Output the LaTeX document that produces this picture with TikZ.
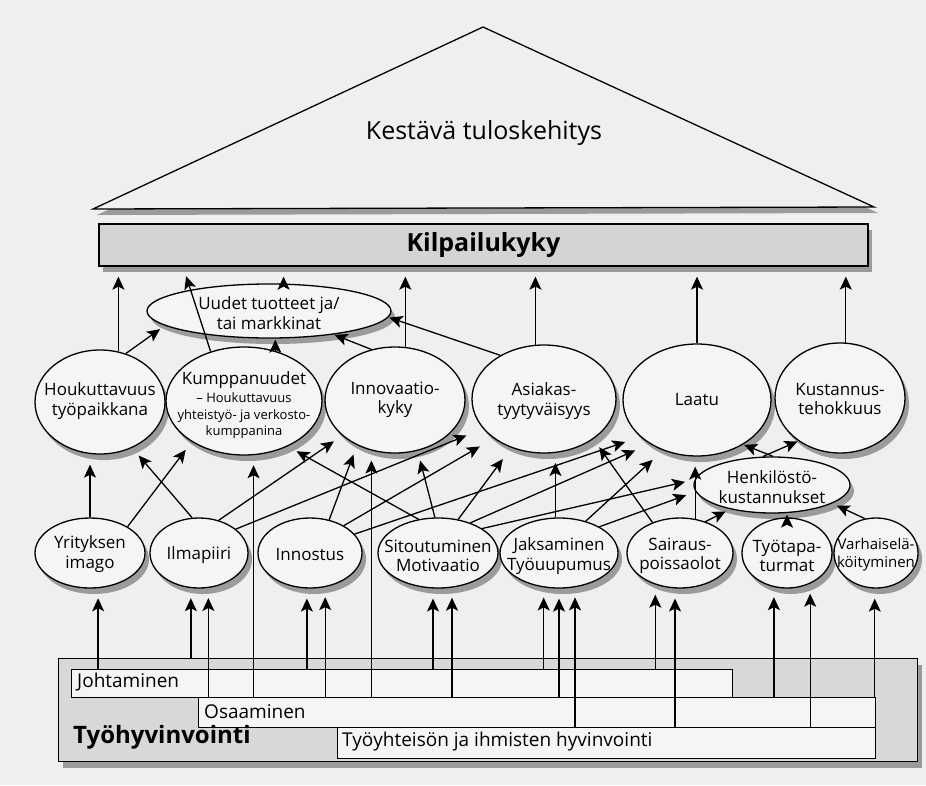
\documentclass[tikz,border=0pt]{standalone}
\usepackage{fontspec}
\setmainfont{Open Sans}
\usetikzlibrary{shapes.geometric,arrows.meta,calc}
\definecolor{bg}{RGB}{239,239,237}
\definecolor{ellfill}{RGB}{245,245,243}
\definecolor{barfill}{RGB}{212,212,210}
\definecolor{boxfill}{RGB}{216,216,214}
\definecolor{innerfill}{RGB}{245,245,243}
\definecolor{shade}{RGB}{155,155,155}
\newcommand\smalltxt{\fontsize{13}{15}\selectfont}
\begin{document}
\begin{tikzpicture}[x=1pt,y=-1pt,
  every node/.style={font=\fontsize{17}{19.5}\selectfont},
  shad/.style={preaction={fill=shade, transform canvas={xshift=4pt,yshift=-6pt}}},
  ell/.style={ellipse, draw, line width=1.3pt, fill=ellfill, inner sep=0pt, shad},
  txt/.style={align=center, inner sep=0pt},
  boxtxt/.style={anchor=west, inner sep=0pt, font=\fontsize{19}{22}\selectfont},
  inbox/.style={draw, line width=1.3pt, fill=innerfill, inner sep=0pt, anchor=north west},
  arr/.style={line width=1.3pt, -{Stealth[length=13pt,width=12pt,inset=3pt]}, shorten >=10pt},
  arrs/.style={arr, shorten >=1pt}
]
\fill[bg] (0,0) rectangle (926,785);
\useasboundingbox (0,0) rectangle (926,785);

% roof
\path[draw, line width=1.3pt, fill=bg, shad] (483,27) coordinate (apex) -- (93,209) coordinate (tl) -- (874,207) coordinate (tr) -- cycle;
\node[font=\fontsize{25}{30}\selectfont] (kes) at (484,133) {Kestävä tuloskehitys};

% bar
\node[draw, line width=1.3pt, fill=barfill, shad, minimum width=769pt, minimum height=42pt, inner sep=0pt] (kil) at (483.5,245) {};
\node[font=\bfseries\fontsize{25}{30}\selectfont] (kilT) at (kil) {Kilpailukyky};

% upper ellipses
\node[ell, minimum width=244pt, minimum height=54pt] (uud) at (269,311) {};
\node[txt] (uudT) at (269,313) {Uudet tuotteet ja/\\tai markkinat};

\node[ell, minimum width=130pt, minimum height=104pt] (hou) at (100,402) {};
\node[txt] (houT) at (100,401) {Houkuttavuus\\työpaikkana};
\node[ell, minimum width=156pt, minimum height=108pt] (kum) at (244,401) {};
\node[txt] (kumT) at (244,405) {Kumppanuudet\\[-1pt]\smalltxt – Houkuttavuus\\[-3pt]\smalltxt yhteistyö- ja verkosto-\\[-3pt]\smalltxt kumppanina};
\node[ell, minimum width=140pt, minimum height=106pt] (inn) at (395,400) {};
\node[txt] (innT) at (395,400) {Innovaatio-\\kyky};
\node[ell, minimum width=144pt, minimum height=108pt] (asi) at (544,399) {};
\node[txt] (asiT) at (544,401) {Asiakas-\\tyytyväisyys};
\node[ell, minimum width=148pt, minimum height=112pt] (laa) at (697,400) {};
\node[txt] (laaT) at (697,400) {Laatu};
\node[ell, minimum width=130pt, minimum height=110pt] (kus) at (840,398) {};
\node[txt] (kusT) at (840,399) {Kustannus-\\tehokkuus};

\node[ell, minimum width=156pt, minimum height=56pt] (hen) at (772,485) {};
\node[txt] (henT) at (772,487) {Henkilöstö-\\kustannukset};

% lower ellipses
\node[ell, minimum width=110pt, minimum height=70pt] (yri) at (90,553) {};
\node[txt] (yriT) at (90,554) {Yrityksen\\imago};
\node[ell, minimum width=98pt, minimum height=70pt] (ilm) at (199,553) {};
\node[txt] (ilmT) at (199,555) {Ilmapiiri};
\node[ell, minimum width=104pt, minimum height=70pt] (ist) at (310,553) {};
\node[txt] (istT) at (310,555) {Innostus};
\node[ell, minimum width=120pt, minimum height=70pt] (sit) at (438,553) {};
\node[txt] (sitT) at (438,556) {Sitoutuminen\\Motivaatio};
\node[ell, minimum width=118pt, minimum height=70pt] (jak) at (559,553) {};
\node[txt] (jakT) at (559,556) {Jaksaminen\\Työuupumus};
\node[ell, minimum width=106pt, minimum height=70pt] (sai) at (680,553) {};
\node[txt] (saiT) at (680,556) {Sairaus-\\poissaolot};
\node[ell, minimum width=90pt, minimum height=70pt] (tyo) at (787,553) {};
\node[txt] (tyoT) at (787,556) {Työtapa-\\turmat};
\node[ell, minimum width=84pt, minimum height=70pt] (var) at (876,553) {};
\node[txt, font=\fontsize{15}{18}\selectfont] (varT) at (876,555) {Varhaiselä-\\köityminen};

% bottom boxes
\node[draw, line width=1.3pt, fill=boxfill, shad, minimum width=859pt, minimum height=103pt, inner sep=0pt, anchor=north west] (tyh) at (58,658) {};
\node[inbox, minimum width=661pt, minimum height=28pt] (joh) at (71,669) {};
\node[inbox, minimum width=677pt, minimum height=30pt] (osa) at (198,697) {};
\node[inbox, minimum width=538pt, minimum height=31pt] (tyy) at (337,727) {};
\node[boxtxt] (johT) at (77,682) {Johtaminen};
\node[boxtxt] (osaT) at (204,712) {Osaaminen};
\node[boxtxt] (tyyT) at (342,742) {Työyhteisön ja ihmisten hyvinvointi};
\node[boxtxt, font=\bfseries\fontsize{24}{28}\selectfont] (tyhT) at (73,737) {Työhyvinvointi};

% to Kilpailukyky
\draw[arr] (hou.70) -- (hou.70 |- kil.south);
\draw[arr] (kum.124) -- ([xshift=-300.5pt]kil.south);
\draw[arr] (uud.62) -- (uud.62 |- kil.south);
\draw[arr] (inn.79) -- (inn.79 |- kil.south);
\draw[arr] (asi.99) -- (asi.99 |- kil.south);
\draw[arr] (laa.north) -- (laa.north |- kil.south);
\draw[arr] (kus.84) -- (kus.84 |- kil.south);

% to Uudet tuotteet
\draw[arr, shorten >=6pt] (hou.62) -- (uud.188);
\draw[arrs] (kum.58) -- (kum.58 |- uud.south);
\draw[arrs] (inn.115) -- (uud.340);
\draw[arrs] (asi.135) -- (uud.357);

% lower row to upper row
\draw[arr] (yri.north) -- (yri.north |- hou.south);
\draw[arr] (yri.35) -- (kum.218);
\draw[arr] (ilm.101) -- (hou.305);
\draw[arr] (ilm.59) -- (inn.214);
\draw[arr, shorten >=18pt] (ilm.33) -- (asi.206);
\draw[arr] (ist.60) -- (inn.230);
\draw[arr, shorten >=16pt] (ist.39) -- (asi.218);
\draw[arr, shorten >=16pt] (ist.23) -- (laa.213);
\draw[arr] (sit.120) -- (kum.314);
\draw[arr] (sit.95) -- (inn.294);
\draw[arr, shorten >=14pt] (sit.59) -- (asi.236);
\draw[arr, shorten >=16pt] (sit.43) -- (laa.223);
\draw[arr] (sit.29) -- (hen.176);
\draw[arr] (jak.north -| asi.282) -- (asi.282);
\draw[arr, shorten >=14pt] (jak.50) -- (laa.236);
\draw[arr] (jak.33) -- (hen.185);
\draw[arr] (sai.132) -- (asi.321);
\draw[arr] (sai.66) -- (sai.66 |- laa.south);
\draw[arr, shorten >=5pt] (sai.51) -- (hen.210);
\draw[arrs] (tyo.north) -- (tyo.north |- hen.south);
\draw[arr, shorten >=5pt] (var.108) -- (hen.343);
\draw[arrs] (hen.88) -- (laa.316);
\draw[arrs] (hen.108) -- (kus.226);

% boxes to lower row
\draw[arr] (yri.283 |- joh.north) -- (yri.283);
\draw[arr] (ist.265 |- joh.north) -- (ist.265);
\draw[arr] (sit.262 |- joh.north) -- (sit.262);
\draw[arr] (jak.246 |- joh.north) -- (jak.246);
\draw[arr] (sai.232 |- joh.north) -- (sai.232);
\draw[arr] (ilm.257 |- tyh.north) -- (ilm.257);
\draw[arr] (ilm.285 |- osa.north) -- (ilm.285);
\draw[arr] (kum.280 |- osa.north) -- (kum.280);
\draw[arr] (ist.294 |- osa.north) -- (ist.294);
\draw[arr] (inn.245 |- osa.north) -- (inn.245);
\draw[arr] (sit.292 |- osa.north) -- (sit.292);
\draw[arr] (jak.south |- osa.north) -- (jak.south);
\draw[arr] (tyo.249 |- osa.north) -- (tyo.249);
\draw[arr] (var.268 |- osa.north) -- (var.268);
\draw[arr] (jak.295 |- tyy.north) -- (jak.295);
\draw[arr] (sai.262 |- tyy.north) -- (sai.262);
\draw[arr] (tyo.307 |- tyy.north) -- (tyo.307);
\end{tikzpicture}
\end{document}
